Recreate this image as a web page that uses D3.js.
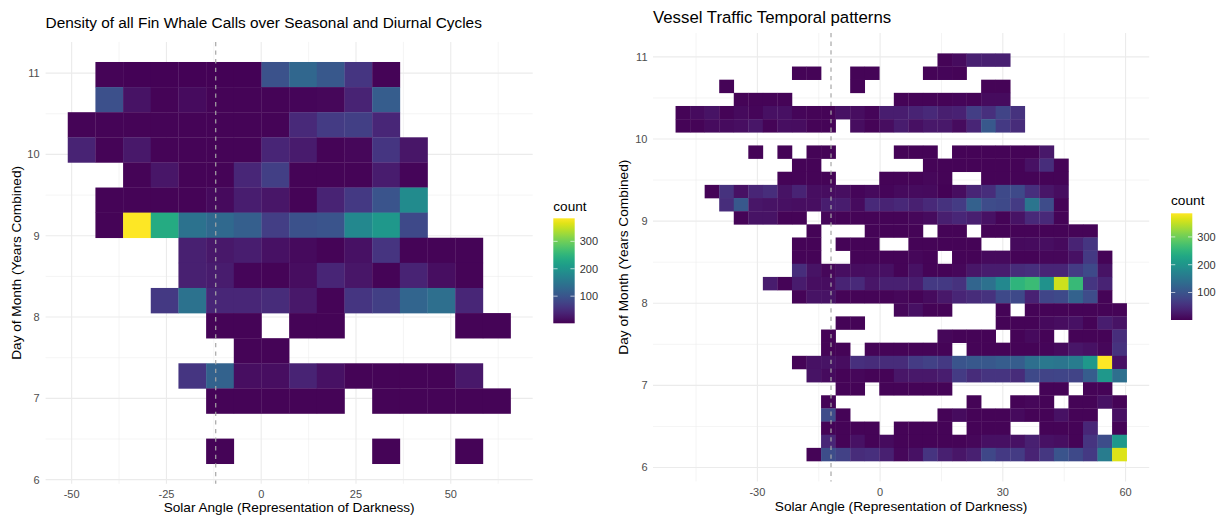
<!DOCTYPE html>
<html>
<head>
<meta charset="utf-8">
<script src="https://cdn.jsdelivr.net/npm/d3@7"></script>
<style>
  body { margin: 0; background: #fff; }
  svg { display: block; }
  text { font-family: "Liberation Sans", Arial, Helvetica, sans-serif; }
</style>
</head>
<body>
<svg id="chart" width="1223" height="515"></svg>
<script>
// ---------- data ----------
// bin counts, rows listed from the top bin (day ~11) downwards, 0 = no calls in that bin
let whaleXOrigin = -51.03, whaleXWidth = 7.30;
let whaleYOrigin = 6.196, whaleYHeight = 0.3088;
let whaleCounts = [
  [0,4,3,3,3,3,3,97,127,105,60,5,0,0,0,0],
  [0,95,20,5,12,4,4,4,6,8,38,112,0,0,0,0],
  [4,4,4,4,4,4,4,5,45,68,72,42,0,0,0,0],
  [38,4,25,5,5,5,5,40,28,4,8,60,22,0,0,0],
  [0,0,5,22,5,5,42,72,4,4,5,30,6,0,0,0],
  [0,4,4,4,4,10,32,22,4,38,65,100,185,0,0,0],
  [0,5,384,235,146,130,116,70,96,100,180,205,85,0,0,0],
  [0,0,0,0,35,25,32,18,10,4,18,58,4,4,4,0],
  [0,0,0,0,35,30,6,4,14,40,22,4,38,15,5,0],
  [0,0,0,65,145,42,42,48,25,4,60,72,125,140,42,0],
  [0,0,0,0,0,4,4,0,4,4,0,0,0,0,4,4],
  [0,0,0,0,0,0,4,4,0,0,0,0,0,0,0,0],
  [0,0,0,0,60,120,15,15,38,18,5,5,5,5,25,0],
  [0,0,0,0,0,4,4,4,4,4,0,4,4,4,4,4],
  [0,0,0,0,0,0,0,0,0,0,0,0,0,0,0,0],
  [0,0,0,0,0,4,0,0,0,0,0,4,0,0,4,0]
];

let vesselXOrigin = -50.0, vesselXWidth = 3.557;
let vesselYOrigin = 6.079, vesselYHeight = 0.1601;
let vesselCounts = [
  [0,0,0,0,0,0,0,0,0,0, 0,0,0,0,0,0,0,0,4,12, 35,35,35,0,0,0,0,0,0,0, 0],
  [0,0,0,0,0,0,0,0,4,4, 0,0,4,4,0,0,0,4,6,4, 0,0,0,0,0,0,0,0,0,0, 0],
  [0,0,0,4,0,0,0,0,0,0, 0,0,4,0,0,0,0,0,0,0, 0,4,4,0,0,0,0,0,0,0, 0],
  [0,0,0,0,4,4,4,4,0,0, 0,0,0,0,0,4,4,4,4,6, 4,12,12,0,0,0,0,0,0,0, 0],
  [4,12,20,5,10,6,16,16,6,4, 4,18,14,6,32,32,38,45,33,36, 70,52,78,55,0,0,0,0,0,0, 0],
  [4,5,12,12,15,22,4,15,13,5, 5,0,14,5,14,30,16,25,25,12, 40,105,65,48,0,0,0,0,0,0, 0],
  [0,0,0,0,0,0,0,0,0,0, 0,0,0,0,0,0,0,0,0,0, 0,0,0,0,0,0,0,0,0,0, 0],
  [0,0,0,0,0,4,0,4,0,4, 4,0,0,0,0,4,4,4,0,4, 4,4,4,5,5,25,0,0,0,0, 0],
  [0,0,0,0,0,0,0,0,4,4, 0,0,0,0,0,0,0,4,4,4, 4,4,4,5,18,50,4,0,0,0, 0],
  [0,0,0,0,0,0,0,4,4,4, 4,0,0,0,4,4,4,8,4,0, 0,4,5,4,4,4,4,0,0,0, 0],
  [0,0,4,55,18,40,50,20,38,15, 13,15,6,10,6,10,12,10,3,14, 40,50,85,85,52,22,14,0,0,0, 0],
  [0,0,0,50,105,22,20,17,15,15, 32,30,12,45,38,44,34,45,55,68, 118,88,85,68,150,88,5,0,0,0, 0],
  [0,0,0,0,4,20,20,4,4,0, 8,4,4,4,4,5,8,12,33,42, 33,18,5,20,45,45,4,0,0,0, 0],
  [0,0,0,0,0,0,0,0,0,4, 0,0,0,4,4,4,4,0,4,4, 0,4,4,4,4,4,4,4,4,0, 0],
  [0,0,0,0,0,0,0,0,4,4, 0,4,4,4,0,0,4,4,4,4, 4,0,0,10,12,15,10,38,60,0, 0],
  [0,0,0,0,0,0,0,0,4,4, 0,0,4,4,4,4,8,4,0,4, 4,10,10,4,4,8,8,18,65,4, 0],
  [0,0,0,0,0,0,0,0,50,20, 8,15,13,15,16,4,18,4,4,8, 22,30,30,48,52,40,40,68,85,20, 0],
  [0,0,0,0,0,0,30,5,28,15, 13,38,45,22,35,35,32,65,65,55, 125,142,180,250,262,195,355,260,60,38, 0],
  [0,0,0,0,0,0,0,0,4,20, 20,4,4,5,4,8,4,12,25,40, 48,55,85,85,36,80,85,120,88,4, 0],
  [0,0,0,0,0,0,0,0,0,0, 0,0,0,0,0,8,16,4,4,0, 0,0,4,0,4,4,5,4,4,4, 4],
  [0,0,0,0,0,0,0,0,0,0, 0,4,4,0,0,0,0,0,0,0, 0,0,4,4,4,10,14,18,4,32, 20],
  [0,0,0,0,0,0,0,0,0,0, 4,0,0,0,0,0,0,0,8,4, 4,4,0,4,10,4,0,4,4,5, 50],
  [0,0,0,0,0,0,0,0,0,0, 4,4,0,4,4,4,4,4,4,0, 4,4,4,4,4,6,10,22,18,8, 55],
  [0,0,0,0,0,0,0,0,5,18, 20,14,52,48,48,48,68,75,65,100, 105,105,112,112,140,155,150,160,205,385, 18],
  [0,0,0,0,0,0,0,0,0,20, 12,5,8,5,5,22,25,25,32,68, 48,58,58,48,85,78,80,78,112,205, 140],
  [0,0,0,0,0,0,0,0,0,0, 0,4,4,0,4,4,4,4,4,0, 0,0,0,0,0,4,4,0,4,4, 0],
  [0,0,0,0,0,0,0,0,0,0, 4,0,0,0,0,0,0,0,0,0, 4,0,0,4,8,4,0,4,4,18, 4],
  [0,0,0,0,0,0,0,0,0,0, 88,4,0,0,0,0,0,0,4,12, 4,4,4,10,4,4,18,4,4,0, 16],
  [0,0,0,0,0,0,0,0,0,0, 4,4,4,4,0,4,4,4,4,0, 4,4,4,0,0,4,4,4,42,0, 4],
  [0,0,0,0,0,0,0,0,0,0, 42,4,18,5,12,4,4,4,4,4, 8,16,16,18,35,18,15,4,58,90, 205],
  [0,0,0,0,0,0,0,0,0,4, 90,75,48,52,35,8,18,58,35,22, 35,82,65,68,38,62,100,85,65,160, 365]
];

let whaleXTicks = [-50, -25, 0, 25, 50];
let vesselXTicks = [-30, 0, 30, 60];
let dayTicks = [6, 7, 8, 9, 10, 11];
let legendTicks = [100, 200, 300];
let darknessLine = -12;

// ---------- drawing ----------
let svg = d3.select("#chart");

let drawPanel = (p) => {
  let nRows = p.counts.length;
  let nCols = p.counts[0].length;
  let xMin = p.xOrigin, xMax = p.xOrigin + nCols * p.xWidth;
  let yMin = p.yOrigin, yMax = p.yOrigin + nRows * p.yHeight;
  // ggplot default 5% expansion
  let xPad = (xMax - xMin) * 0.05, yPad = (yMax - yMin) * 0.05;

  let x = d3.scaleLinear().domain([xMin - xPad, xMax + xPad]).range([p.left, p.right]);
  let y = d3.scaleLinear().domain([yMin - yPad, yMax + yPad]).range([p.bottom, p.top]);

  let maxCount = d3.max(p.counts.flat());
  let color = d3.scaleSequential(d3.interpolateViridis).domain([1, maxCount]);

  let g = svg.append("g");

  // minor + major grid
  let xt = p.xTicks;
  let step = xt[1] - xt[0];
  let xMinor = d3.range(xt[0] - step / 2, x.domain()[1], step).filter(v => v > x.domain()[0]);
  let yMinor = d3.range(dayTicks[0] - 0.5, y.domain()[1], 1).filter(v => v > y.domain()[0]);

  g.selectAll(".xminor").data(xMinor).enter().append("line")
    .attr("x1", d => x(d)).attr("x2", d => x(d))
    .attr("y1", p.top).attr("y2", p.bottom)
    .attr("stroke", "#ebebeb").attr("stroke-width", 0.55);
  g.selectAll(".yminor").data(yMinor).enter().append("line")
    .attr("y1", d => y(d)).attr("y2", d => y(d))
    .attr("x1", p.left).attr("x2", p.right)
    .attr("stroke", "#ebebeb").attr("stroke-width", 0.55);
  g.selectAll(".xmajor").data(xt).enter().append("line")
    .attr("x1", d => x(d)).attr("x2", d => x(d))
    .attr("y1", p.top).attr("y2", p.bottom)
    .attr("stroke", "#ebebeb").attr("stroke-width", 1.1);
  g.selectAll(".ymajor").data(dayTicks).enter().append("line")
    .attr("y1", d => y(d)).attr("y2", d => y(d))
    .attr("x1", p.left).attr("x2", p.right)
    .attr("stroke", "#ebebeb").attr("stroke-width", 1.1);

  // tiles
  let cells = [];
  p.counts.forEach((row, r) => {
    row.forEach((v, c) => {
      if (v > 0) cells.push({ r: r, c: c, v: v });
    });
  });

  g.selectAll(".tile").data(cells).enter().append("rect")
    .attr("class", "tile")
    .attr("x", d => x(p.xOrigin + d.c * p.xWidth))
    .attr("width", d => x(p.xOrigin + (d.c + 1) * p.xWidth) - x(p.xOrigin + d.c * p.xWidth) + 0.3)
    .attr("y", d => y(p.yOrigin + (nRows - d.r) * p.yHeight))
    .attr("height", d => y(p.yOrigin + (nRows - d.r - 1) * p.yHeight) - y(p.yOrigin + (nRows - d.r) * p.yHeight) + 0.3)
    .attr("fill", d => color(d.v));

  // dashed reference line
  g.append("line")
    .attr("x1", x(darknessLine)).attr("x2", x(darknessLine))
    .attr("y1", p.top).attr("y2", p.bottom)
    .attr("stroke", "#a6a6a6").attr("stroke-width", 1.2)
    .attr("stroke-dasharray", "4.3,4.3");

  // tick labels
  g.selectAll(".xlab").data(xt).enter().append("text")
    .attr("x", d => x(d)).attr("y", p.xLabelY)
    .attr("text-anchor", "middle")
    .attr("font-size", p.tickSize).attr("fill", "#4d4d4d")
    .text(d => d);
  g.selectAll(".ylab").data(dayTicks).enter().append("text")
    .attr("x", p.left - p.yLabelGap).attr("y", d => y(d) + p.tickSize * 0.36)
    .attr("text-anchor", "end")
    .attr("font-size", p.tickSize).attr("fill", "#4d4d4d")
    .text(d => d);

  // titles
  g.append("text")
    .attr("x", p.left).attr("y", p.titleY)
    .attr("font-size", p.titleSize).attr("fill", "#000")
    .text(p.title);
  g.append("text")
    .attr("x", (p.left + p.right) / 2).attr("y", p.xTitleY)
    .attr("text-anchor", "middle")
    .attr("font-size", p.axisSize).attr("fill", "#000")
    .text("Solar Angle (Representation of Darkness)");
  g.append("text")
    .attr("transform", "translate(" + p.yTitleX + "," + ((p.top + p.bottom) / 2) + ") rotate(-90)")
    .attr("text-anchor", "middle")
    .attr("font-size", p.axisSize).attr("fill", "#000")
    .text("Day of Month (Years Combined)");

  // legend
  let lg = p.legend;
  let gradId = "grad" + p.id;
  let grad = svg.append("defs").append("linearGradient")
    .attr("id", gradId)
    .attr("x1", 0).attr("y1", 1).attr("x2", 0).attr("y2", 0);
  d3.range(0, 1.0001, 0.05).forEach(t => {
    grad.append("stop").attr("offset", t).attr("stop-color", d3.interpolateViridis(t));
  });

  let ly = d3.scaleLinear().domain([1, maxCount]).range([lg.bottom, lg.top]);

  g.append("text")
    .attr("x", lg.left).attr("y", lg.titleY)
    .attr("font-size", p.axisSize).attr("fill", "#000")
    .text("count");
  g.append("rect")
    .attr("x", lg.left).attr("y", lg.top)
    .attr("width", lg.width).attr("height", lg.bottom - lg.top)
    .attr("fill", "url(#" + gradId + ")");
  legendTicks.forEach(v => {
    g.append("line")
      .attr("x1", lg.left).attr("x2", lg.left + lg.width / 5)
      .attr("y1", ly(v)).attr("y2", ly(v))
      .attr("stroke", "#fff").attr("stroke-opacity", 0.8).attr("stroke-width", 0.8);
    g.append("line")
      .attr("x1", lg.left + lg.width * 4 / 5).attr("x2", lg.left + lg.width)
      .attr("y1", ly(v)).attr("y2", ly(v))
      .attr("stroke", "#fff").attr("stroke-opacity", 0.8).attr("stroke-width", 0.8);
  });
  g.selectAll(".leglab").data(legendTicks).enter().append("text")
    .attr("x", lg.left + lg.width + 5).attr("y", d => ly(d) + p.tickSize * 0.36)
    .attr("font-size", p.tickSize).attr("fill", "#333")
    .text(d => d);
};

drawPanel({
  id: "whale",
  title: "Density of all Fin Whale Calls over Seasonal and Diurnal Cycles",
  counts: whaleCounts,
  xOrigin: whaleXOrigin, xWidth: whaleXWidth,
  yOrigin: whaleYOrigin, yHeight: whaleYHeight,
  xTicks: whaleXTicks,
  left: 45.6, right: 532.7, top: 41.9, bottom: 483.8,
  tickSize: 11, axisSize: 13.6, titleSize: 15.4,
  xLabelY: 497.5, yLabelGap: 6, titleY: 27.5, xTitleY: 512, yTitleX: 21,
  legend: { left: 553.3, width: 21.4, top: 218.3, bottom: 323.3, titleY: 210.5 }
});

drawPanel({
  id: "vessel",
  title: "Vessel Traffic Temporal patterns",
  counts: vesselCounts,
  xOrigin: vesselXOrigin, xWidth: vesselXWidth,
  yOrigin: vesselYOrigin, yHeight: vesselYHeight,
  xTicks: vesselXTicks,
  left: 653, right: 1149.2, top: 33, bottom: 481.4,
  tickSize: 11, axisSize: 13.7, titleSize: 16.8,
  xLabelY: 495.5, yLabelGap: 5.5, titleY: 22.5, xTitleY: 511, yTitleX: 628,
  legend: { left: 1171, width: 21.3, top: 213.3, bottom: 320, titleY: 205 }
});
</script>
</body>
</html>
